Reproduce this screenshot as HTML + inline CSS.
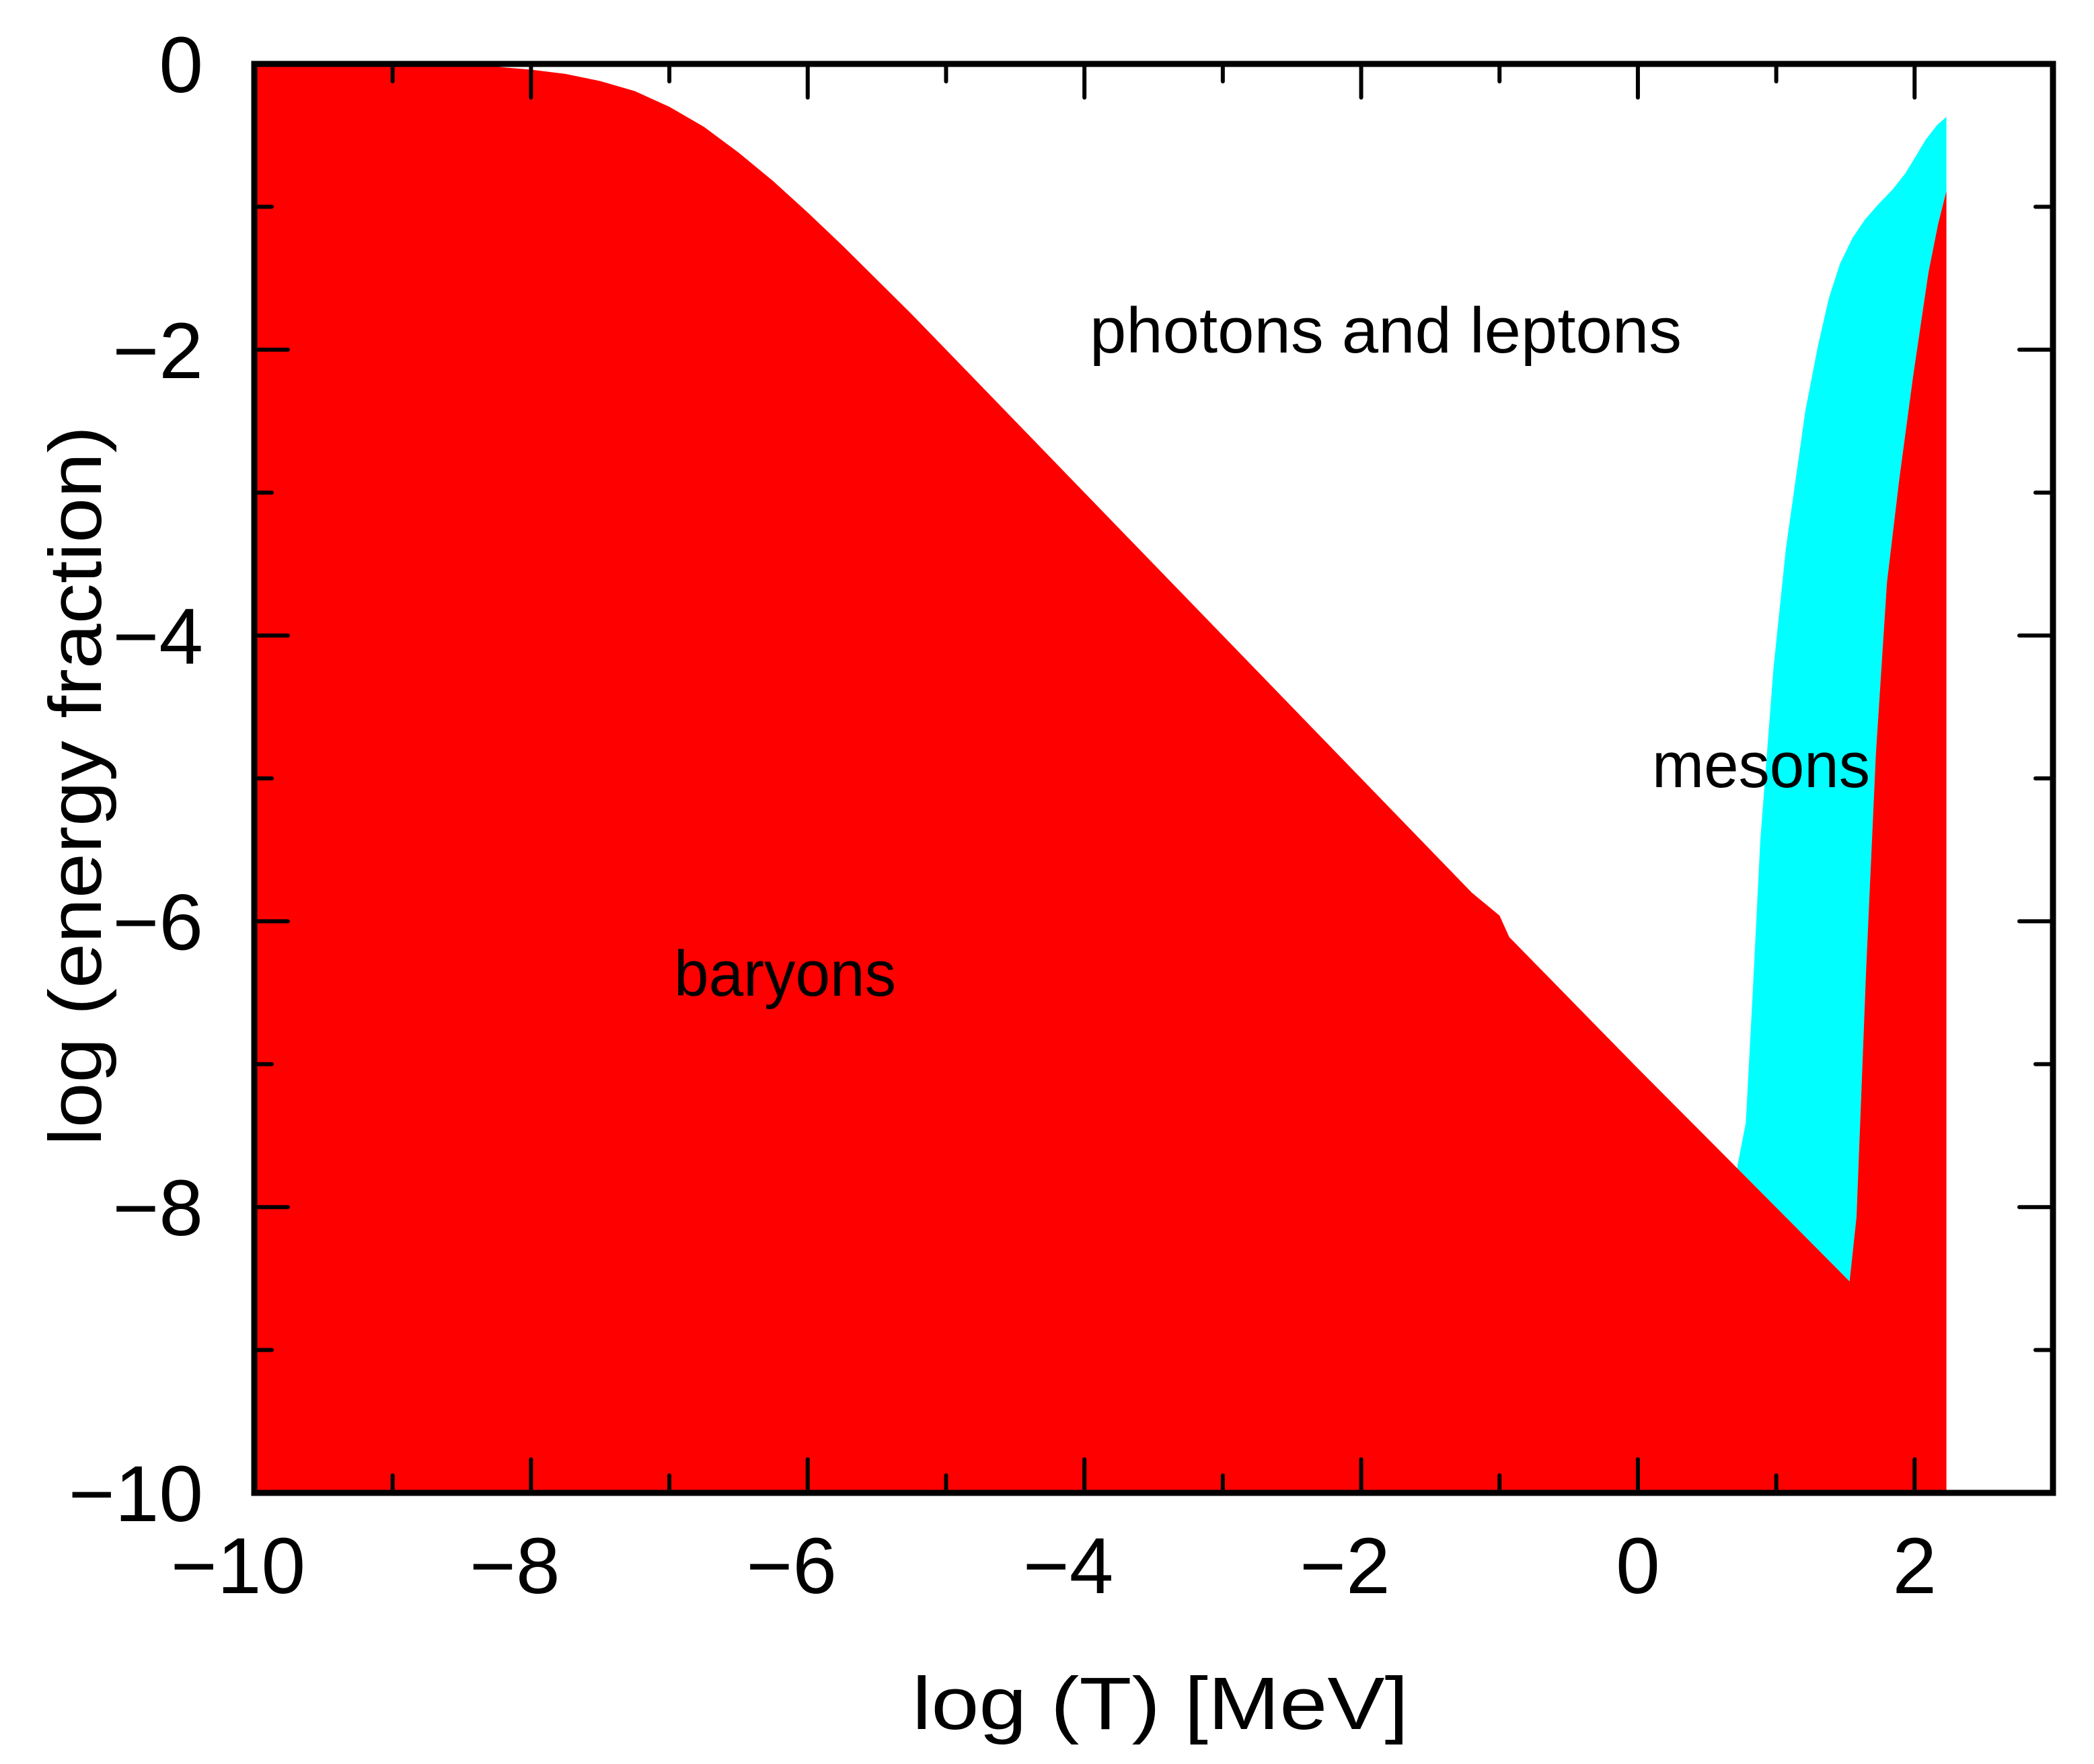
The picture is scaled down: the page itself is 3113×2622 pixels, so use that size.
<!DOCTYPE html>
<html><head><meta charset="utf-8"><style>
html,body{margin:0;padding:0;background:#fff;}
svg{display:block;}
text{font-family:"Liberation Sans",sans-serif;fill:#000;}
</style></head><body>
<svg id="chart" width="3113" height="2622" viewBox="0 0 3113 2622" xmlns="http://www.w3.org/2000/svg">
<g id="fills"></g>
<g id="axes"></g>
<text x="1620" y="524" font-size="96" textLength="880" lengthAdjust="spacingAndGlyphs">photons and leptons</text>
<text x="2456" y="1170" font-size="96" textLength="324" lengthAdjust="spacingAndGlyphs">mesons</text>
<text x="1002" y="1480" font-size="96" textLength="330" lengthAdjust="spacingAndGlyphs">baryons</text>
<text x="1356" y="2570" font-size="110" textLength="738" lengthAdjust="spacingAndGlyphs">log (T)   [MeV]</text>
<text transform="translate(150,1168) rotate(-90)" text-anchor="middle" font-size="110" textLength="1070" lengthAdjust="spacingAndGlyphs">log (energy fraction)</text>
</svg>
<script>
// baryon upper boundary (log T, log fraction)
const baryonX = [-10, -9.5, -9, -8.75, -8.5, -8.25, -8, -7.75, -7.5, -7.25, -7, -6.75, -6.5, -6.25, -6, -5.75, -5.5, -5.25, -5, -4.5, -4, -3, -2, -1.2, -1.0, -0.93, 0, 0.72, 1.53, 1.58, 1.65, 1.72, 1.80, 1.89, 1.99, 2.10, 2.17, 2.23];
const baryonY = [0, 0, 0, -0.006, -0.01, -0.02, -0.04, -0.07, -0.12, -0.19, -0.30, -0.44, -0.62, -0.82, -1.04, -1.27, -1.51, -1.75, -2.0, -2.5, -3.0, -4.0, -5.0, -5.8, -5.96, -6.11, -7.03, -7.73, -8.52, -8.07, -6.33, -4.83, -3.63, -2.90, -2.18, -1.46, -1.12, -0.89];
// baryons + mesons upper boundary
const mesonX = [0.72, 0.78, 0.83, 0.885, 0.98, 1.07, 1.21, 1.30, 1.38, 1.46, 1.55, 1.64, 1.74, 1.84, 1.93, 2.00, 2.08, 2.16, 2.23];
const mesonY = [-7.71, -7.41, -6.5, -5.43, -4.23, -3.39, -2.43, -1.98, -1.64, -1.40, -1.22, -1.09, -0.98, -0.88, -0.77, -0.66, -0.53, -0.43, -0.37];
const xTicks = [-10, -8, -6, -4, -2, 0, 2];
const xTickLabels = ["\u221210", "\u22128", "\u22126", "\u22124", "\u22122", "0", "2"];
const yTicks = [0, -2, -4, -6, -8, -10];
const yTickLabels = ["0", "\u22122", "\u22124", "\u22126", "\u22128", "\u221210"];

const L = 378, R = 3052, T = 95, B = 2219;
const xMin = -10, xMax = 3, yMin = -10, yMax = 0;
function sx(v){ return L + (v - xMin) / (xMax - xMin) * (R - L); }
function sy(v){ return T + (yMax - v) / (yMax - yMin) * (B - T); }
const NS = "http://www.w3.org/2000/svg";
const fills = document.getElementById('fills');
const axes = document.getElementById('axes');

let d = '';
mesonX.forEach((x,i)=>{ d += (i?'L':'M') + sx(x) + ',' + sy(mesonY[i]); });
d += 'L' + sx(baryonX[baryonX.length-1]) + ',' + sy(baryonY[baryonY.length-1]);
for (let i = baryonX.length-1; i >= 0; i--) {
  if (baryonX[i] < mesonX[0]) break;
  d += 'L' + sx(baryonX[i]) + ',' + sy(baryonY[i]);
}
d += 'Z';
const cyan = document.createElementNS(NS,'path');
cyan.setAttribute('d', d);
cyan.setAttribute('fill', '#00ffff');


fills.appendChild(cyan);

let d2 = 'M' + sx(baryonX[0]) + ',' + sy(yMin);
baryonX.forEach((x,i)=>{ d2 += 'L' + sx(x) + ',' + sy(baryonY[i]); });
d2 += 'L' + sx(baryonX[baryonX.length-1]) + ',' + sy(yMin) + 'Z';
const red = document.createElementNS(NS,'path');
red.setAttribute('d', d2);
red.setAttribute('fill', '#ff0000');


fills.appendChild(red);

function line(x1,y1,x2,y2,w,name){
  const l = document.createElementNS(NS,'line');
  l.setAttribute('x1',x1); l.setAttribute('y1',y1); l.setAttribute('x2',x2); l.setAttribute('y2',y2);
  l.setAttribute('stroke','#000'); l.setAttribute('stroke-width',w); l.setAttribute('stroke-linecap','round');
  
  
  axes.appendChild(l);
}
for (let v = xMin; v <= xMax; v++) {
  const len = (v % 2 === 0) ? 50 : 26;
  const x = sx(v);
  line(x, B, x, B - len, 6, 'x-tick');
  line(x, T, x, T + len, 6, 'x-tick-top');
}
for (let v = yMin; v <= yMax; v++) {
  const len = (v % 2 === 0) ? 50 : 26;
  const y = sy(v);
  line(L, y, L + len, y, 6, 'y-tick');
  line(R, y, R - len, y, 6, 'y-tick-right');
}
const frame = document.createElementNS(NS,'rect');
frame.setAttribute('x', L); frame.setAttribute('y', T);
frame.setAttribute('width', R - L); frame.setAttribute('height', B - T);
frame.setAttribute('fill','none'); frame.setAttribute('stroke','#000'); frame.setAttribute('stroke-width', 9);


axes.appendChild(frame);

xTicks.forEach((v,i)=>{
  const t = document.createElementNS(NS,'text');
  t.setAttribute('x', sx(v) - (xTickLabels[i].length > 1 ? 24 : 0));
  t.setAttribute('y', 2368);
  t.setAttribute('font-size', 118);
  t.setAttribute('text-anchor', 'middle');
  t.textContent = xTickLabels[i];
  
  
  axes.appendChild(t);
});
yTicks.forEach((v,i)=>{
  const t = document.createElementNS(NS,'text');
  t.setAttribute('x', 302);
  t.setAttribute('y', sy(v) + 42);
  t.setAttribute('font-size', 118);
  t.setAttribute('text-anchor', 'end');
  t.textContent = yTickLabels[i];
  
  
  axes.appendChild(t);
});
</script>
</body></html>
